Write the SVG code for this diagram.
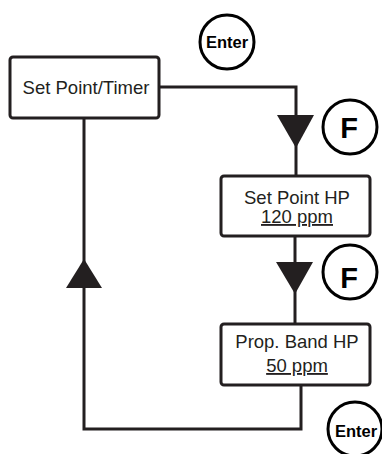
<svg xmlns="http://www.w3.org/2000/svg" width="382" height="454" viewBox="0 0 382 454">
<style>
.box{fill:#fff;stroke:#231f20;stroke-width:3}
.ln{fill:none;stroke:#231f20;stroke-width:3}
.ring{fill:#fff;stroke:#000;stroke-width:3}
.tri{fill:#231f20}
.t{font-family:"Liberation Sans",Arial,sans-serif;font-size:18.5px;fill:#231f20;text-anchor:middle}
.u{text-decoration:underline}
.f{font-family:"Liberation Sans",Arial,sans-serif;font-size:29px;font-weight:bold;fill:#000;text-anchor:middle}
.e{font-family:"Liberation Sans",Arial,sans-serif;font-size:16.5px;font-weight:bold;fill:#000;text-anchor:middle}
</style>
<g id="connectors">
<polyline class="ln" points="159,87 296,87 296,176"/>
<line class="ln" x1="295" y1="236" x2="295" y2="324"/>
<polyline class="ln" points="301,385 301,429 84,429 84,118"/>
<polygon class="tri" points="277,115 314,115 296,148"/>
<polygon class="tri" points="276,262 313,262 295,294"/>
<polygon class="tri" points="84,259 66,288 102,288"/>
</g>
<g id="enter1">
<circle class="ring" cx="227" cy="42" r="27"/>
<text class="e" x="227" y="48">Enter</text>
</g>
<g id="setpoint-timer">
<rect class="box" x="10" y="57" width="149" height="61" rx="3"/>
<text class="t" x="86" y="94">Set Point/Timer</text>
</g>
<g id="f1">
<circle class="ring" cx="350" cy="127" r="27"/>
<text class="f" x="349" y="138">F</text>
</g>
<g id="setpoint-hp">
<rect class="box" x="221" y="176" width="149" height="60" rx="3"/>
<text class="t" x="297" y="204">Set Point HP</text>
<text class="t u" x="297" y="223">120 ppm</text>
</g>
<g id="f2">
<circle class="ring" cx="350" cy="272" r="27"/>
<text class="f" x="349" y="288">F</text>
</g>
<g id="propband-hp">
<rect class="box" x="221" y="324" width="149" height="61" rx="3"/>
<text class="t" x="297" y="348">Prop. Band HP</text>
<text class="t u" x="297" y="372">50 ppm</text>
</g>
<g id="enter2">
<circle class="ring" cx="355" cy="429" r="27"/>
<text class="e" x="356" y="437">Enter</text>
</g>
</svg>
